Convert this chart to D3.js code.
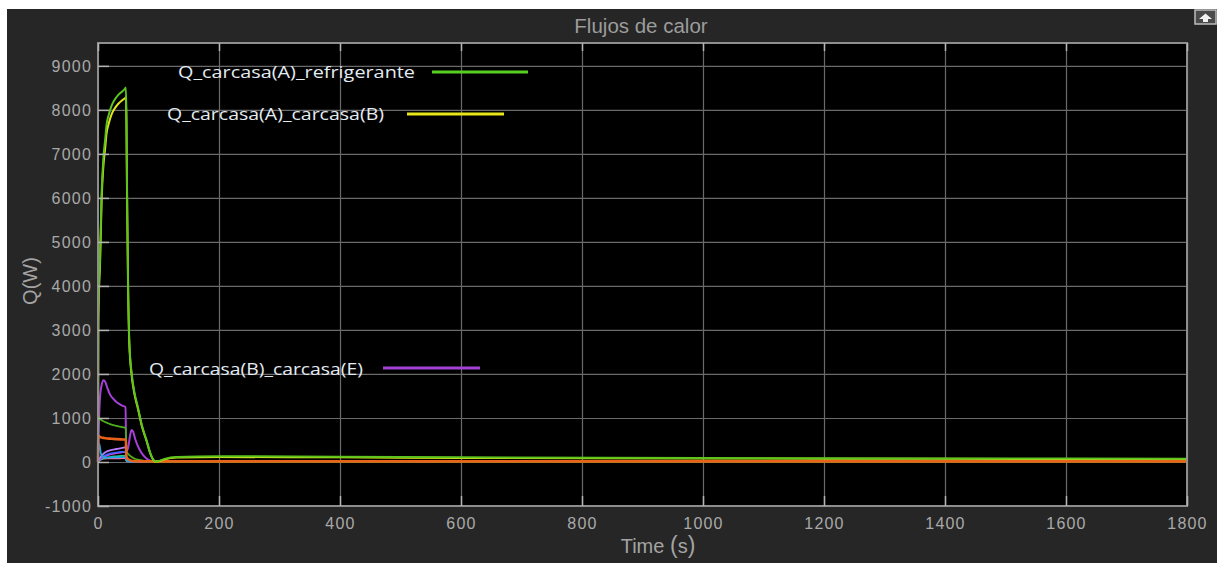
<!DOCTYPE html>
<html>
<head>
<meta charset="utf-8">
<script src="https://cdn.jsdelivr.net/npm/d3@7"></script>
<style>
  html, body { margin: 0; padding: 0; background: #ffffff; }
  svg { display: block; }
</style>
</head>
<body>
<svg id="chart" width="1217" height="563"></svg>
<script>
// Heat flows between casing nodes and the coolant (W) over simulated time (s)
const xTicks = [0, 200, 400, 600, 800, 1000, 1200, 1400, 1600, 1800];
const yTicks = [-1000, 0, 1000, 2000, 3000, 4000, 5000, 6000, 7000, 8000, 9000];

// Q_carcasa(A)_refrigerante
const tRefrig = [0, 0.5, 1, 2, 3.3, 6, 8.8, 12, 14, 18, 22, 27, 33.6, 40, 44, 46, 47, 48, 49.6, 51.7, 55.7, 60, 66, 73, 80.5, 86, 91, 95, 100, 110, 130, 200, 400, 600, 1000, 1400, 1800];
const qRefrig = [0, 3270, 3700, 4200, 4600, 6130, 6890, 7350, 7650, 7900, 8080, 8220, 8340, 8420, 8470, 8510, 7900, 6200, 4200, 2770, 2010, 1600, 1240, 810, 480, 220, 60, 10, 20, 70, 115, 130, 120, 105, 90, 80, 75];

// Q_carcasa(A)_carcasa(B)
const tAB = [0, 0.5, 1, 2, 3.3, 6, 8.8, 12, 14, 18, 22, 27, 33.6, 40, 44, 46, 47, 48, 49.6, 51.7, 55.7, 60, 66, 73, 80.5, 86, 91, 95, 100, 110, 130, 200, 400, 600, 1000, 1400, 1800];
const qAB = [0, 3100, 3550, 4050, 4450, 5950, 6700, 7150, 7450, 7700, 7880, 8020, 8140, 8220, 8260, 8280, 7700, 6050, 4100, 2700, 1960, 1560, 1210, 790, 470, 210, 55, 8, 15, 60, 100, 112, 105, 92, 80, 72, 68];

// Q_carcasa(B)_carcasa(E)
const tBE = [0, 1, 3, 6, 9, 12, 16, 20, 25, 30, 35, 40, 45.5, 46.5, 48, 50, 53, 55.5, 58, 62, 68, 75, 82, 90, 100, 200, 600, 1000, 1800];
const qBE = [0, 600, 1400, 1750, 1860, 1820, 1660, 1530, 1440, 1370, 1320, 1280, 1250, 320, 260, 340, 600, 725, 690, 500, 300, 150, 60, 12, 0, 4, 3, 2, 2];

// remaining (unlabelled) heat flows, sampled on a shared time grid
const tOther = [0, 0.5, 2, 5, 10, 15, 20, 30, 40, 46, 47, 50, 55, 60, 70, 80, 90, 100, 150, 300, 600, 1000, 1400, 1800];
const qGreen2  = [0, 1050, 1000, 960, 920, 890, 860, 820, 790, 770, 250, 180, 120, 80, 40, 15, 5, 0, 0, 0, 0, 0, 0, 0];
const qOrange  = [0, 600, 580, 560, 545, 535, 530, 520, 512, 508, 120, 60, 30, 20, 15, 15, 15, 15, 15, 15, 15, 15, 15, 15];
const qCyan    = [0, 250, 420, 180, 110, 100, 100, 105, 110, 115, 40, 20, 10, 5, 2, 0, 0, 0, 0, 0, 0, 0, 0, 0];
const qLilac   = [0, 20, 60, 130, 200, 240, 265, 295, 320, 335, 60, 30, 15, 8, 4, 2, 0, 0, 0, 0, 0, 0, 0, 0];
const qBlue    = [0, 10, 40, 90, 140, 170, 190, 215, 230, 235, 40, 20, 10, 5, 2, 0, 0, 0, 0, 0, 0, 0, 0, 0];
const qMagenta = [0, 5, 30, 70, 120, 150, 170, 200, 220, 230, 50, 25, 10, 5, 2, 0, 0, 0, 0, 0, 0, 0, 0, 0];
const qTeal    = [0, 5, 20, 50, 80, 100, 115, 130, 140, 145, 30, 15, 8, 4, 2, 0, 0, 0, 0, 0, 0, 0, 0, 0];
const qPink    = [0, 30, 60, 70, 75, 78, 80, 82, 84, 85, 20, 10, 5, 2, 0, 0, 0, 0, 0, 0, 0, 0, 0, 0];

const legendLabels = ["Q_carcasa(A)_refrigerante", "Q_carcasa(A)_carcasa(B)", "Q_carcasa(B)_carcasa(E)"];

const svg = d3.select("#chart");
const W = 1217, H = 563;
const plot = { left: 98, top: 43, right: 1187, bottom: 506 };

// dark figure panel
svg.append("rect").attr("x", 7).attr("y", 9).attr("width", W - 7).attr("height", H - 9).attr("fill", "#262626");

const x = d3.scaleLinear().domain([0, 1800]).range([plot.left, plot.right]);
const y = d3.scaleLinear().domain([-1000, 9520]).range([plot.bottom, plot.top]);

svg.append("rect")
  .attr("x", plot.left).attr("y", plot.top)
  .attr("width", plot.right - plot.left).attr("height", plot.bottom - plot.top)
  .attr("fill", "#000000");

// grid
const grid = svg.append("g").attr("class", "grid");
grid.append("g").attr("transform", `translate(0,${plot.bottom})`)
  .call(d3.axisBottom(x).tickValues(xTicks).tickSize(-(plot.bottom - plot.top)).tickFormat(""));
grid.append("g").attr("transform", `translate(${plot.left},0)`)
  .call(d3.axisLeft(y).tickValues(yTicks).tickSize(-(plot.right - plot.left)).tickFormat(""));
grid.selectAll(".domain").remove();
grid.selectAll(".tick line").attr("stroke", "#6a6a6a").attr("stroke-width", 1.2);

// curves
const line = d3.line().x(d => x(d[0])).y(d => y(d[1])).curve(d3.curveMonotoneX);
const zip = (t, q) => t.map((v, i) => [v, q[i]]);

const series = [
  { t: tOther, q: qPink,    color: "#ff6a9a", w: 1.6 },
  { t: tOther, q: qTeal,    color: "#22c890", w: 1.6 },
  { t: tOther, q: qMagenta, color: "#e040e0", w: 1.6 },
  { t: tOther, q: qBlue,    color: "#3a62ff", w: 1.6 },
  { t: tOther, q: qLilac,   color: "#b47cf5", w: 1.8 },
  { t: tOther, q: qCyan,    color: "#1ea8e6", w: 1.8 },
  { t: tBE,    q: qBE,      color: "#a640d8", w: 2.0 },
  { t: tOther, q: qGreen2,  color: "#4aae1e", w: 1.8 },
  { t: tOther, q: qOrange,  color: "#e8621c", w: 2.6 },
  { t: tAB,    q: qAB,      color: "#e2e21c", w: 2.0 },
  { t: tRefrig, q: qRefrig, color: "#5cc41c", w: 2.0 }
];

const curves = svg.append("g");
curves.selectAll("path")
  .data(series)
  .join("path")
  .attr("d", s => line(zip(s.t, s.q)))
  .attr("fill", "none")
  .attr("stroke", s => s.color)
  .attr("stroke-width", s => s.w)
  .attr("stroke-linejoin", "round");

// frame
svg.append("rect")
  .attr("x", plot.left).attr("y", plot.top)
  .attr("width", plot.right - plot.left).attr("height", plot.bottom - plot.top)
  .attr("fill", "none").attr("stroke", "#8e8e8e").attr("stroke-width", 2);

// inner ticks and labels
const tickFont = "'Liberation Sans', Arial, sans-serif";
const fmt = v => String(v);
const yAxis = svg.append("g").attr("transform", `translate(${plot.left},0)`)
  .call(d3.axisLeft(y).tickValues(yTicks).tickSize(-11).tickPadding(6).tickFormat(fmt));
const xAxis = svg.append("g").attr("transform", `translate(0,${plot.bottom})`)
  .call(d3.axisBottom(x).tickValues(xTicks).tickSize(-10).tickPadding(11.6).tickFormat(fmt));
const xTop = svg.append("g").attr("transform", `translate(0,${plot.top})`)
  .call(d3.axisTop(x).tickValues(xTicks).tickSize(-8).tickFormat(""));
[yAxis, xAxis, xTop].forEach(g => {
  g.select(".domain").remove();
  g.selectAll(".tick line").attr("stroke", "#b4b4b4").attr("stroke-width", 1.5);
  g.selectAll("text")
    .attr("fill", "#a9a9a9")
    .style("font-family", tickFont)
    .style("font-size", "16px")
    .style("letter-spacing", "1.2px");
});

// title and axis labels
svg.append("text")
  .attr("x", 641).attr("y", 33)
  .attr("text-anchor", "middle")
  .attr("fill", "#9c9c9c")
  .style("font-family", tickFont)
  .style("font-size", "20.5px")
  .text("Flujos de calor");

svg.append("text")
  .attr("transform", "translate(37,281) rotate(-90)")
  .attr("text-anchor", "middle")
  .attr("fill", "#a4a4a4")
  .style("font-family", tickFont)
  .style("font-size", "20px")
  .text("Q(W)");

const xl = svg.append("text")
  .attr("x", 658).attr("y", 553)
  .attr("text-anchor", "middle")
  .attr("fill", "#a4a4a4")
  .style("font-family", tickFont)
  .style("font-size", "20px");
xl.append("tspan").text("Time ");
xl.append("tspan").style("font-size", "23px").text("(");
xl.append("tspan").text("s");
xl.append("tspan").style("font-size", "23px").text(")");

// in-plot legend annotations
const legendSpec = [
  { label: legendLabels[0], color: "#58cf1e", tx: 178, ty: 78, tw: 237, lx1: 432, lx2: 528, ly: 72 },
  { label: legendLabels[1], color: "#e6e61a", tx: 167, ty: 120, tw: 217, lx1: 407, lx2: 504, ly: 114 },
  { label: legendLabels[2], color: "#a542d6", tx: 149, ty: 375, tw: 214, lx1: 383, lx2: 480, ly: 368 }
];
const leg = svg.append("g");
legendSpec.forEach(d => {
  leg.append("text")
    .attr("x", d.tx).attr("y", d.ty)
    .attr("textLength", d.tw).attr("lengthAdjust", "spacingAndGlyphs")
    .attr("fill", "#e4ecf3")
    .style("font-family", "'Open Sans', 'Noto Sans', sans-serif")
    .style("font-size", "16.5px")
    .text(d.label);
  leg.append("line")
    .attr("x1", d.lx1).attr("x2", d.lx2).attr("y1", d.ly).attr("y2", d.ly)
    .attr("stroke", d.color).attr("stroke-width", 3);
});

// undock button in the corner
const btn = svg.append("g").attr("transform", "translate(1195,10)");
btn.append("rect").attr("width", 21).attr("height", 14).attr("fill", "#4a4a4a").attr("stroke", "#bdbdbd").attr("stroke-width", 1.5);
btn.append("path").attr("d", "M4,9 L10.5,3.5 L17,9 L13,9 L13,12 L8,12 L8,9 Z").attr("fill", "#f2f2f2");
</script>
</body>
</html>
